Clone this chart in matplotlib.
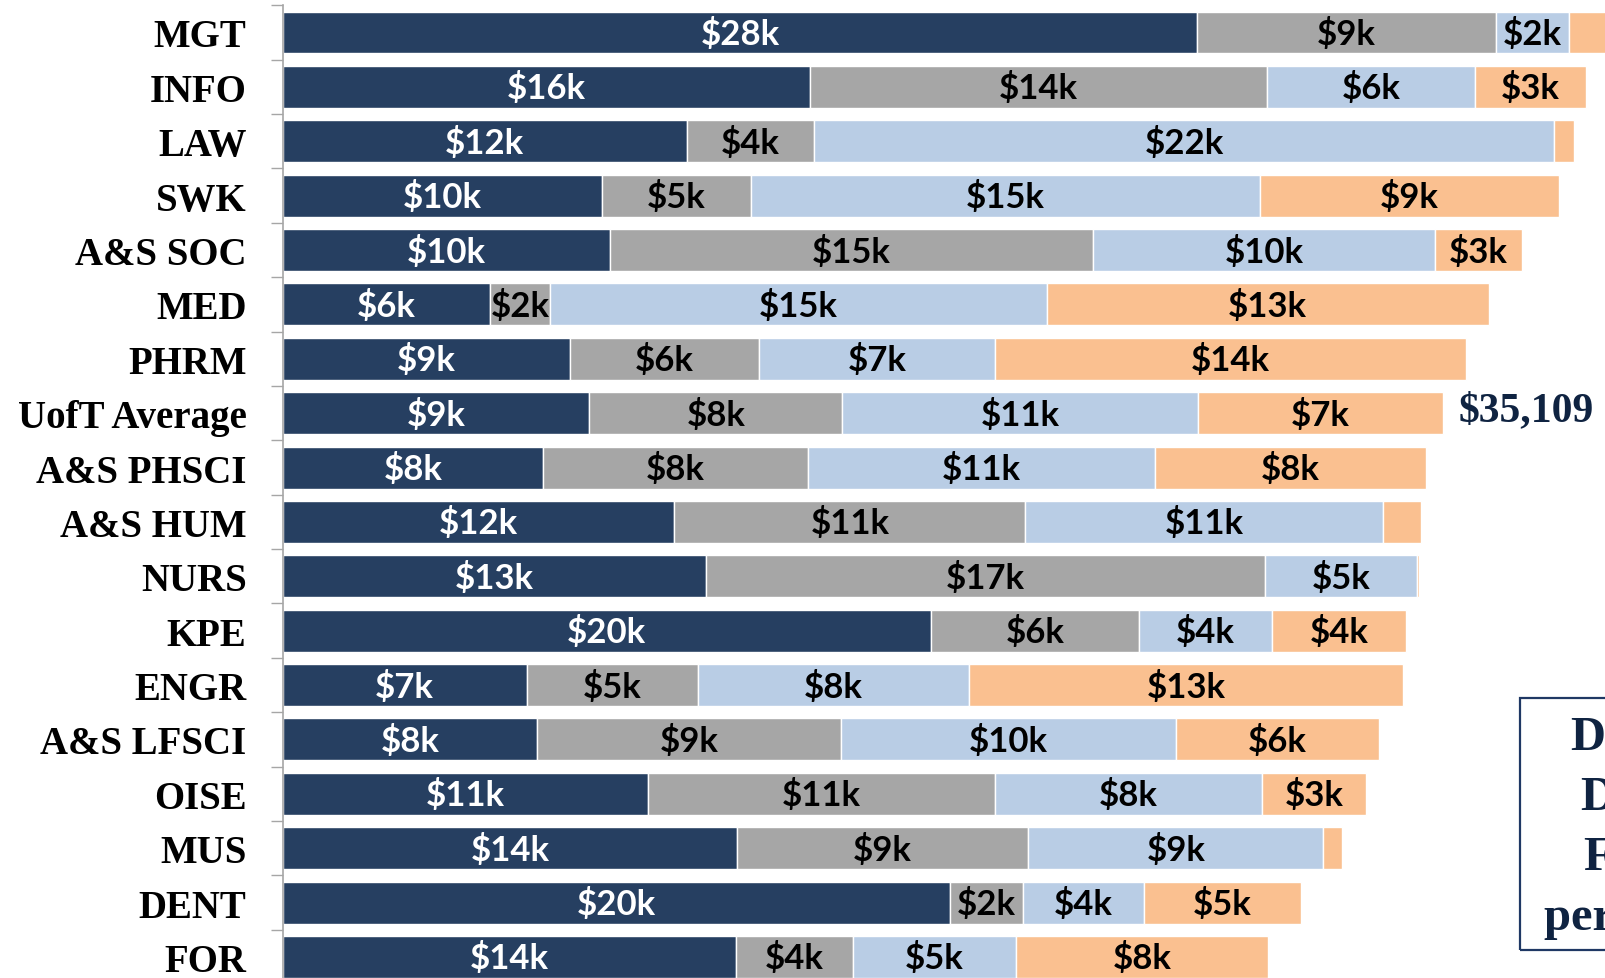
import numpy as np
import matplotlib.pyplot as plt
from matplotlib.patches import Rectangle

# ------------------------------
# Data (thousands of $)
# ------------------------------
faculties = ["MGT", "INFO", "LAW", "SWK", "A&S SOC", "MED", "PHRM", "UofT Average",
             "A&S PHSCI", "A&S HUM", "NURS", "KPE", "ENGR", "A&S LFSCI", "OISE",
             "MUS", "DENT", "FOR"]
seg1 = [27.67, 15.94, 12.22, 9.65, 9.89, 6.27, 8.68, 9.27, 7.88, 11.85, 12.81, 19.60,
        7.38, 7.69, 11.04, 13.74, 20.19, 13.71]
seg2 = [9.03, 13.83, 3.85, 4.53, 14.61, 1.83, 5.74, 7.66, 8.00, 10.61, 16.90, 6.30,
        5.18, 9.21, 10.51, 8.81, 2.20, 3.54]
seg3 = [2.20, 6.30, 22.39, 15.38, 10.36, 15.01, 7.13, 10.76, 10.51, 10.82, 4.59, 4.03,
        8.19, 10.11, 8.06, 8.93, 3.66, 4.93]
seg4 = [1.40, 3.35, 0.59, 9.06, 2.64, 13.37, 14.24, 7.41, 8.19, 1.15, 0.06, 4.06,
        13.15, 6.14, 3.16, 0.56, 4.75, 7.63]
average_total = "$35,109"
box_lines = ["Debt", "Debt", "Faculty", "per student"]

colors = ["#263f61", "#a6a6a6", "#b9cde5", "#fac090"]
text_colors = ["white", "black", "black", "black"]

# ------------------------------
# Figure
# ------------------------------
fig = plt.figure(figsize=(16.06, 9.79), dpi=100)
ax = fig.add_axes([282.7 / 1606, -0.00623, 1 - 282.7 / 1606, 0.99979])

y = np.arange(len(faculties))
left = np.zeros(len(faculties))
for vals, c, tc in zip([seg1, seg2, seg3, seg4], colors, text_colors):
    vals = np.array(vals)
    ax.barh(y, vals, left=left, height=0.772, color=c, edgecolor="white", linewidth=1)
    for yi, l, v in zip(y, left, vals):
        if v >= 1.5:
            ax.text(l + v / 2, yi + 0.02, f"${round(v)}k", ha="center", va="center",
                    color=tc, fontsize=25, fontweight="bold", family="Lato")
    left += vals

ax.set_xlim(0, 40.03)
ax.set_ylim(len(faculties) - 0.5, -0.5)

# category labels on minor ticks, divider ticks on major
ax.set_yticks(np.arange(len(faculties) + 1) - 0.5)
ax.set_yticklabels([])
ax.set_yticks(y, minor=True)
ax.set_yticklabels(faculties, minor=True, family="Liberation Serif",
                   fontweight="bold", fontsize=28)
ax.tick_params(axis="y", which="major", length=8.6, color="#a6a6a6", width=1)
ax.tick_params(axis="y", which="minor", length=0, pad=26)
ax.set_xticks([])
for s in ["top", "right", "bottom"]:
    ax.spines[s].set_visible(False)
ax.spines["left"].set_color("#a6a6a6")
ax.spines["left"].set_linewidth(1.2)

# total for the average row
ax.text(1459 / 1606, 1 - 411 / 979, average_total, transform=fig.transFigure,
        ha="left", va="center", fontsize=30, fontweight="bold",
        family="Liberation Serif", color="#0f2341")

# cropped text box at bottom right
fig.patches.append(Rectangle((1520 / 1606, 1 - 951 / 979), 0.2, 252 / 979,
                             transform=fig.transFigure, fill=False,
                             edgecolor="#1f3864", linewidth=1.6))
for i, (xs, line) in enumerate(zip([1570, 1580, 1583, 1544], box_lines)):
    fig.text(xs / 1606, 1 - (738 + 60 * i) / 979, line, ha="left", va="center",
             fontsize=35, fontweight="bold", family="Liberation Serif", color="#0f2341")

plt.savefig("out.png", dpi=100)
